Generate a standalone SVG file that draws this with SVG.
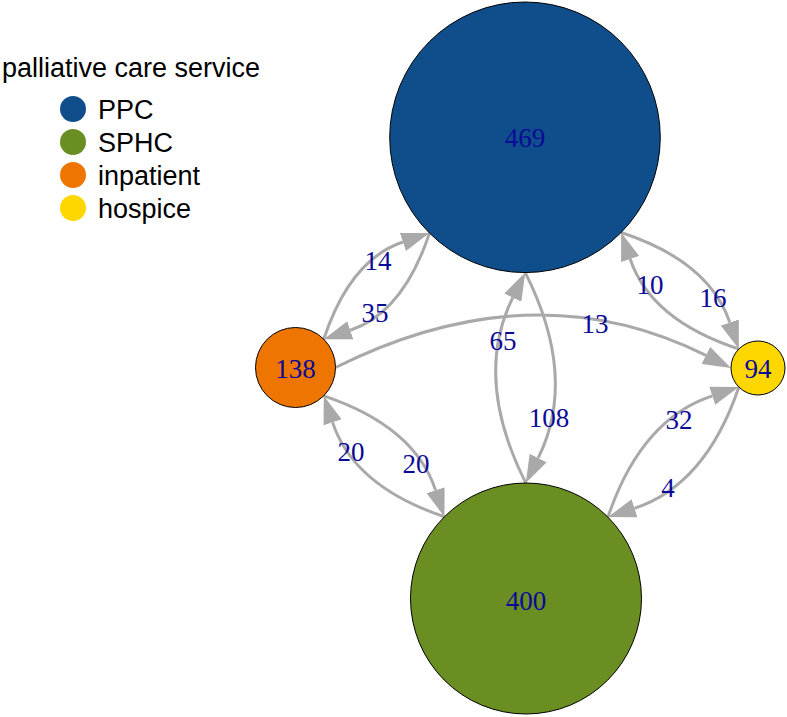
<svg xmlns="http://www.w3.org/2000/svg" width="787" height="717" viewBox="0 0 787 717">
<style>
.edge{fill:none;stroke:#A9A9A9;stroke-width:3;marker-end:url(#arr)}
.node{stroke:#000;stroke-width:1}
.nl{font-family:"Liberation Serif","Times New Roman",serif;font-size:27px;fill:#0A0A96;text-anchor:middle}
.el{font-family:"Liberation Serif","Times New Roman",serif;font-size:27px;fill:#0A0A96;text-anchor:middle}
.lg{font-family:"Liberation Sans",Arial,sans-serif;font-size:27px;fill:#000}
</style>
<defs>
<marker id="arr" markerUnits="userSpaceOnUse" viewBox="0 0 28 19" refX="0" refY="9.5" markerWidth="28" markerHeight="19" orient="auto">
<path d="M0,0 L28,9.5 L0,19 z" fill="#A9A9A9"/>
</marker>
</defs>
<rect width="787" height="717" fill="#fff"/>
<g id="legend">
<text class="lg" x="2" y="77">palliative care service</text>
<circle cx="73" cy="109" r="13" fill="#104E8B"/>
<text class="lg" x="98" y="119">PPC</text>
<circle cx="73" cy="142" r="13" fill="#6B8E23"/>
<text class="lg" x="98" y="152">SPHC</text>
<circle cx="73" cy="175" r="13" fill="#EE7600"/>
<text class="lg" x="98" y="185">inpatient</text>
<circle cx="73" cy="208" r="13" fill="#FFD700"/>
<text class="lg" x="98" y="218">hospice</text>
</g>
<g id="edges">
<path class="edge" d="M323.74,339.17 Q350.1,259.7 402.92,242.01"/>
<path class="edge" d="M429.47,233.12 Q403.1,312.6 350.29,330.28"/>
<path class="edge" d="M335.5,367.5 Q533.4,268.9 705.97,355.45"/>
<path class="edge" d="M621.15,232.5 Q709.1,261.3 729.83,322.48"/>
<path class="edge" d="M738.81,349.0 Q650.85,320.17 630.14,259.02"/>
<path class="edge" d="M525.75,483 Q472.9,377.9 512.82,297.67"/>
<path class="edge" d="M525.29,272.6 Q578.1,377.7 538.22,457.93"/>
<path class="edge" d="M323.75,395.81 Q414.3,426.1 435.59,490.17"/>
<path class="edge" d="M444.42,516.74 Q353.9,486.4 332.59,422.38"/>
<path class="edge" d="M607.94,517.1 Q640.9,419.4 712.26,395.82"/>
<path class="edge" d="M738.85,387.03 Q705.9,484.8 634.53,508.33"/>
</g>
<g id="node-PPC">
<circle class="node" cx="525" cy="137.3" r="135.3" fill="#104E8B"/>
<text class="nl" x="525" y="147">469</text>
</g>
<g id="node-SPHC">
<circle class="node" cx="526" cy="598.5" r="115.5" fill="#6B8E23"/>
<text class="nl" x="526" y="610">400</text>
</g>
<g id="node-inpatient">
<circle class="node" cx="295.5" cy="367.5" r="40" fill="#EE7600"/>
<text class="nl" x="295.5" y="378">138</text>
</g>
<g id="node-hospice">
<circle class="node" cx="758" cy="368" r="27" fill="#FFD700"/>
<text class="nl" x="758" y="378">94</text>
</g>
<g id="edge-labels">
<text class="el" x="378" y="270">14</text>
<text class="el" x="375" y="322">35</text>
<text class="el" x="595" y="333">13</text>
<text class="el" x="713" y="307">16</text>
<text class="el" x="650" y="294">10</text>
<text class="el" x="503" y="350">65</text>
<text class="el" x="549" y="427">108</text>
<text class="el" x="416" y="473">20</text>
<text class="el" x="351" y="461">20</text>
<text class="el" x="679" y="429">32</text>
<text class="el" x="668" y="497">4</text>
</g>
</svg>
